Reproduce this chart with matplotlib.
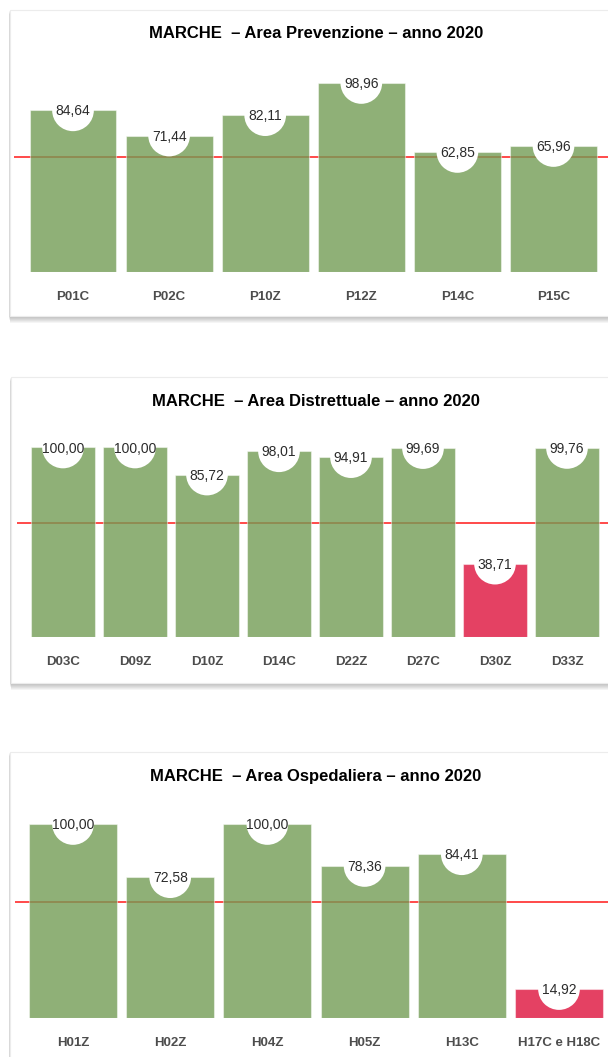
import numpy as np
import matplotlib
matplotlib.use("Agg")
import matplotlib.pyplot as plt
from matplotlib.patches import Rectangle

plt.rcParams['font.family'] = ['Liberation Sans', 'DejaVu Sans']

# data
prev_labels = ['P01C', 'P02C', 'P10Z', 'P12Z', 'P14C', 'P15C']
prev_values = [84.64, 71.44, 82.11, 98.96, 62.85, 65.96]

distr_labels = ['D03C', 'D09Z', 'D10Z', 'D14C', 'D22Z', 'D27C', 'D30Z', 'D33Z']
distr_values = [100.00, 100.00, 85.72, 98.01, 94.91, 99.69, 38.71, 99.76]

osp_labels = ['H01Z', 'H02Z', 'H04Z', 'H05Z', 'H13C', 'H17C e H18C']
osp_values = [100.00, 72.58, 100.00, 78.36, 84.41, 14.92]

titles = ['MARCHE  \u2013 Area Prevenzione \u2013 anno 2020',
          'MARCHE  \u2013 Area Distrettuale \u2013 anno 2020',
          'MARCHE  \u2013 Area Ospedaliera \u2013 anno 2020']
threshold = 60

W, H = 608, 1057
fig = plt.figure(figsize=(W / 100, H / 100), dpi=100)

GREEN = (0x73 / 255, 0x9c / 255, 0x55 / 255, 0.8)
PINK = (0xde / 255, 0x12 / 255, 0x3c / 255, 0.8)
LINE_RED = '#ff3b3b'

# background cards with shadow (pixel coords)
bg = fig.add_axes([0, 0, 1, 1], zorder=0)
bg.set_xlim(0, W)
bg.set_ylim(H, 0)
bg.axis('off')
cards = [(10, 10, 316), (11, 377, 683), (10, 752, 1075)]
for cx, top, bot in cards:
    for k in range(7):
        bg.add_patch(Rectangle((cx - 1 + k * 0.15, top + 1 + k), 640, bot - top,
                               color='black', alpha=0.04, lw=0))
    bg.add_patch(Rectangle((cx, top), 640, bot - top, facecolor='white',
                           edgecolor='#ececec', lw=0.8))


def draw_panel(labels, values, title, c0, sp, bar_w, base, ppu, line_x0, title_y):
    top_px = base - 118 * ppu
    ax = fig.add_axes([0, 1 - base / H, 1, (base - top_px) / H], zorder=1)
    ax.patch.set_alpha(0)
    x = np.arange(len(values))
    ax.set_xlim((0 - c0) / sp, (W - c0) / sp)
    ax.set_ylim(0, 118)

    colors = [PINK if v < threshold else GREEN for v in values]
    ax.bar(x, values, width=bar_w, color=colors, edgecolor=(1, 1, 1, 0.45),
           linewidth=0.8, zorder=2)
    ax.hlines(threshold, (line_x0 - c0) / sp, (W - c0) / sp, color=LINE_RED,
              lw=1.3, zorder=1)
    ax.scatter(x, values, s=30 ** 2, color='white', edgecolors='none', zorder=3)
    for xi, v in zip(x, values):
        ax.text(xi, v - 0.6, f'{v:.2f}'.replace('.', ','), ha='center', va='center',
                fontsize=10, color='#2b2b2b', zorder=4)

    ax.set_xticks(x, labels)
    ax.tick_params(axis='x', length=0, pad=14, labelsize=9.5, labelcolor='#4d4d4d')
    for t in ax.get_xticklabels():
        t.set_fontweight('bold')
    ax.set_yticks([])
    for s in ax.spines.values():
        s.set_visible(False)

    fig.text(316 / W, 1 - title_y / H, title, ha='center', va='center',
             fontsize=12, fontweight='bold', color='black')


draw_panel(prev_labels, prev_values, titles[0], 73, 96.1, 0.905, 272, 1.91, 14, 34)
draw_panel(distr_labels, distr_values, titles[1], 63, 72.0, 0.89, 637, 1.895, 17, 401)
draw_panel(osp_labels, osp_values, titles[2], 73, 97.2, 0.905, 1018, 1.94, 15, 776)

fig.savefig('out.png', dpi=100)
